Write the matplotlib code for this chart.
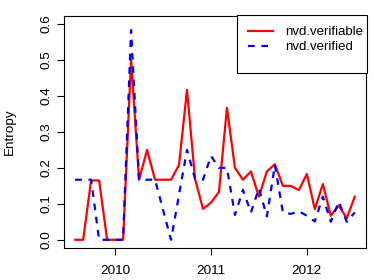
# Entropy of nvd.verifiable vs nvd.verified, monthly
import numpy as np
import pandas as pd
import matplotlib
matplotlib.use("Agg")
import matplotlib.pyplot as plt
from matplotlib.patches import Rectangle

plt.rcParams['font.family'] = ['Liberation Sans', 'DejaVu Sans']

# monthly series Aug 2009 .. Jul 2012
months = pd.period_range('2009-08', '2012-07', freq='M')
verifiable = [0, 0, 0.165, 0.165, 0, 0, 0, 0.5, 0.167, 0.25, 0.167, 0.167,
              0.167, 0.208, 0.417, 0.17, 0.086, 0.103, 0.133, 0.367, 0.2, 0.167,
              0.19, 0.12, 0.19, 0.21, 0.15, 0.15, 0.138, 0.183, 0.085, 0.155,
              0.067, 0.095, 0.06, 0.12]
verified = [0.167, 0.167, 0.167, 0, 0, 0, 0, 0.583, 0.167, 0.167, 0.167, 0.083,
            0, 0.125, 0.25, 0.17, 0.167, 0.233, 0.2, 0.2, 0.069, 0.139, 0.076,
            0.143, 0.065, 0.208, 0.076, 0.072, 0.079, 0.067, 0.051, 0.12, 0.05,
            0.106, 0.05, 0.076]
year_ticks = [2010, 2011, 2012]
y_ticks = [0.0, 0.1, 0.2, 0.3, 0.4, 0.5, 0.6]

t = months.year + (months.month - 1) / 12.0

W, H = 374, 280
fig = plt.figure(figsize=(W / 100, H / 100), dpi=100)
ax = fig.add_axes([64 / W, (H - 247.7) / H, (366 - 64) / W, (247.7 - 15.7) / H])

ax.plot(t, verifiable, color='red', lw=1.6, label='nvd.verifiable')
ax.plot(t, verified, color='blue', lw=1.6, linestyle=(0, (3, 3)), label='nvd.verified')

ax.set_xlim(2009.467, 2012.617)
ax.set_ylim(-0.022, 0.623)
ax.set_xticks(year_ticks)
ax.set_xticklabels([str(y) for y in year_ticks])
ax.set_yticks(y_ticks)
ax.set_yticklabels(['%.1f' % v for v in y_ticks], rotation=90, va='center')
ax.tick_params(length=5.3, width=0.8, labelsize=9.7, color='black')
ax.tick_params(axis='x', pad=7)
ax.tick_params(axis='y', pad=3)
for s in ax.spines.values():
    s.set_linewidth(0.8)
ax.set_ylabel('Entropy', fontsize=9.7)
ax.yaxis.set_label_coords((15.5 - 64) / 302, 0.5)

# legend box drawn separately (R style)
ax.add_patch(Rectangle((237.3 / W, 1 - 73 / H), 129.4 / W, 58 / H, transform=fig.transFigure,
                       facecolor='white', edgecolor='black', lw=0.8, zorder=4, clip_on=False))
ax.legend(loc='upper left', bbox_to_anchor=(248 / W, 1 - 25.9 / H), bbox_transform=fig.transFigure,
          fontsize=9.5, borderaxespad=0, borderpad=0, frameon=False,
          handlelength=1.9, handletextpad=0.91, labelspacing=0.23)

fig.savefig('out.png', dpi=100)
